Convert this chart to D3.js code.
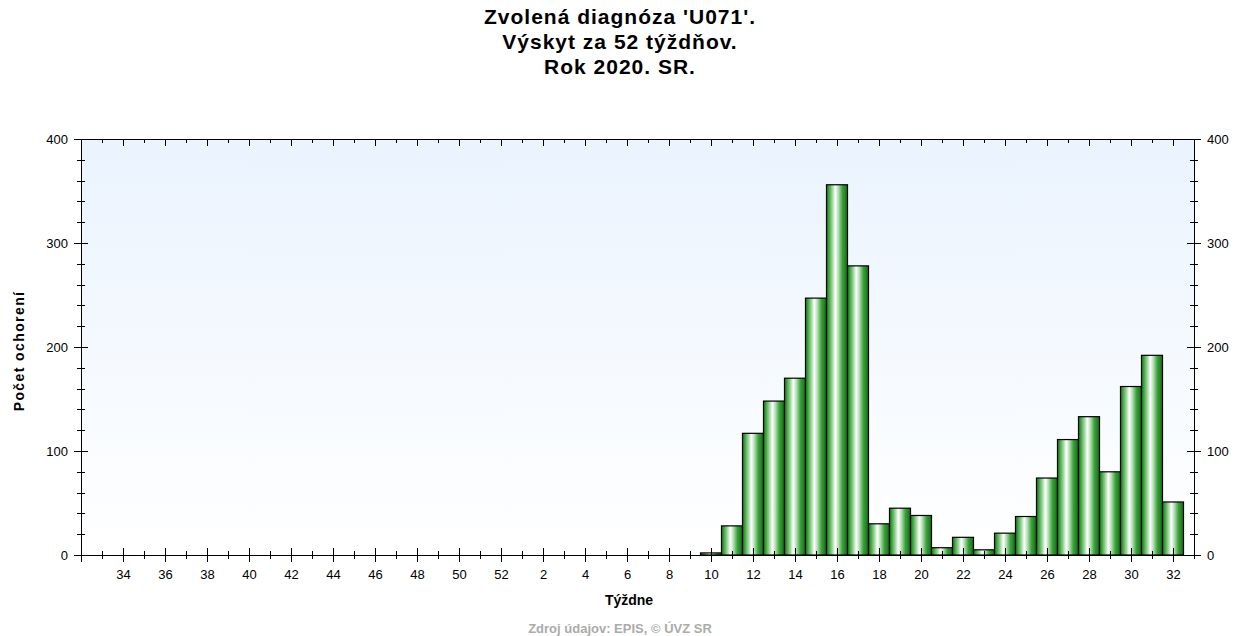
<!DOCTYPE html>
<html>
<head>
<meta charset="utf-8">
<script src="https://cdn.jsdelivr.net/npm/d3@7"></script>
<style>
  body { margin: 0; background: #fff; }
  svg { display: block; font-family: "Liberation Sans", Arial, sans-serif; }
</style>
</head>
<body>
<div id="chart"></div>
<script>
// Weeks in display order (33..52 of previous year, then 1..32)
var weeks = [33, 34, 35, 36, 37, 38, 39, 40, 41, 42, 43, 44, 45, 46, 47, 48, 49, 50, 51, 52,
             1, 2, 3, 4, 5, 6, 7, 8, 9, 10, 11, 12, 13, 14, 15, 16, 17, 18, 19, 20,
             21, 22, 23, 24, 25, 26, 27, 28, 29, 30, 31, 32];

// Cases per week
var cases = [0, 0, 0, 0, 0, 0, 0, 0, 0, 0, 0, 0, 0, 0, 0, 0, 0, 0, 0, 0,
             0, 0, 0, 0, 0, 0, 0, 0, 0, 2, 28, 117, 148, 170, 247, 356, 278, 30, 45, 38,
             7, 17, 5, 21, 37, 74, 111, 133, 80, 162, 192, 51];

var titleLines = ["Zvolená diagnóza 'U071'.", "Výskyt za 52 týždňov.", "Rok 2020. SR."];
var yTicks = [0, 100, 200, 300, 400];

var W = 1239, H = 636;
var plotLeft = 81, plotRight = 1194, plotTop = 139, plotBottom = 555;

var svg = d3.select("#chart").append("svg")
    .attr("width", W)
    .attr("height", H);

var defs = svg.append("defs");

// plot background: pale blue to white
var bg = defs.append("linearGradient").attr("id", "bg")
    .attr("x1", 0).attr("y1", 0).attr("x2", 0).attr("y2", 1);
bg.append("stop").attr("offset", "0%").attr("stop-color", "#eaf3fe");
bg.append("stop").attr("offset", "100%").attr("stop-color", "#ffffff");

// cylinder-like green bar fill
var barFill = defs.append("linearGradient").attr("id", "barFill")
    .attr("x1", 0).attr("y1", 0).attr("x2", 1).attr("y2", 0);
[["0%", "#157515"], ["10%", "#36a036"], ["27%", "#98d398"], ["42%", "#ffffff"],
 ["56%", "#b5e0b5"], ["76%", "#3aa03a"], ["100%", "#126c12"]].forEach(function (s) {
    barFill.append("stop").attr("offset", s[0]).attr("stop-color", s[1]);
});

// scales: index -1 is the left axis, 52 the right axis
var x = d3.scaleLinear().domain([-1, weeks.length]).range([plotLeft, plotRight]);
var y = d3.scaleLinear().domain([0, 400]).range([plotBottom, plotTop]);

svg.append("rect")
    .attr("x", plotLeft).attr("y", plotTop)
    .attr("width", plotRight - plotLeft).attr("height", plotBottom - plotTop)
    .attr("fill", "url(#bg)");

// title
svg.append("g").selectAll("text")
    .data(titleLines)
    .enter().append("text")
    .attr("x", 620)
    .attr("y", function (d, i) { return 24 + i * 25; })
    .attr("text-anchor", "middle")
    .attr("font-size", 21)
    .attr("font-weight", "bold")
    .attr("letter-spacing", 1)
    .text(function (d) { return d; });

// bars
svg.append("g").selectAll("rect")
    .data(cases.map(function (v, i) { return { i: i, v: v }; }).filter(function (d) { return d.v > 0; }))
    .enter().append("rect")
    .attr("x", function (d) { return x(d.i - 0.5); })
    .attr("y", function (d) { return y(d.v); })
    .attr("width", function (d) { return x(d.i + 0.5) - x(d.i - 0.5); })
    .attr("height", function (d) { return y(0) - y(d.v); })
    .attr("fill", "url(#barFill)")
    .attr("stroke", "#000")
    .attr("stroke-width", 1.2);

// helper to strip axis domain and style ticks
function styleAxis(g) {
    g.select(".domain").remove();
    g.selectAll(".tick line").attr("stroke", "#000").attr("shape-rendering", "crispEdges");
    g.selectAll(".tick text").attr("fill", "#000").attr("font-size", 13)
        .attr("font-family", "'Liberation Sans', Arial, sans-serif");
}

var allIdx = d3.range(-1, weeks.length + 1);
var majorIdx = allIdx.filter(function (i) { return Math.abs(i) % 2 === 1; });
var minorIdx = allIdx.filter(function (i) { return Math.abs(i) % 2 === 0; });
var innerMajor = majorIdx.filter(function (i) { return i >= 0 && i < weeks.length; });
var innerMinor = minorIdx.filter(function (i) { return i >= 0 && i < weeks.length; });
var yMinor = d3.range(0, 401, 20).filter(function (v) { return v % 100 !== 0; });

// bottom axis: ticks crossing the line
svg.append("g").attr("transform", "translate(0," + plotBottom + ")")
    .call(d3.axisBottom(x).tickValues(majorIdx).tickSize(7).tickPadding(8)
        .tickFormat(function (i) { return (i >= 0 && i < weeks.length) ? weeks[i] : ""; }))
    .call(styleAxis);
svg.append("g").attr("transform", "translate(0," + plotBottom + ")")
    .call(d3.axisTop(x).tickValues(majorIdx).tickSize(7).tickFormat(""))
    .call(styleAxis);
svg.append("g").attr("transform", "translate(0," + plotBottom + ")")
    .call(d3.axisBottom(x).tickValues(minorIdx).tickSize(4).tickFormat(""))
    .call(styleAxis);
svg.append("g").attr("transform", "translate(0," + plotBottom + ")")
    .call(d3.axisTop(x).tickValues(minorIdx).tickSize(4).tickFormat(""))
    .call(styleAxis);

// top border ticks pointing down
svg.append("g").attr("transform", "translate(0," + plotTop + ")")
    .call(d3.axisBottom(x).tickValues(innerMajor).tickSize(7).tickFormat(""))
    .call(styleAxis);
svg.append("g").attr("transform", "translate(0," + plotTop + ")")
    .call(d3.axisBottom(x).tickValues(innerMinor).tickSize(4).tickFormat(""))
    .call(styleAxis);

// left and right value axes, ticks crossing
[[plotLeft, d3.axisLeft, d3.axisRight], [plotRight, d3.axisRight, d3.axisLeft]].forEach(function (a) {
    svg.append("g").attr("transform", "translate(" + a[0] + ",0)")
        .call(a[1](y).tickValues(yTicks).tickSize(7).tickPadding(6))
        .call(styleAxis);
    svg.append("g").attr("transform", "translate(" + a[0] + ",0)")
        .call(a[2](y).tickValues(yTicks).tickSize(7).tickFormat(""))
        .call(styleAxis);
    svg.append("g").attr("transform", "translate(" + a[0] + ",0)")
        .call(a[1](y).tickValues(yMinor).tickSize(4).tickFormat(""))
        .call(styleAxis);
    svg.append("g").attr("transform", "translate(" + a[0] + ",0)")
        .call(a[2](y).tickValues(yMinor).tickSize(4).tickFormat(""))
        .call(styleAxis);
});

// frame lines
svg.append("g").attr("stroke", "#000").attr("shape-rendering", "crispEdges")
    .selectAll("line")
    .data([[plotLeft, plotTop, plotRight, plotTop], [plotLeft, plotBottom, plotRight, plotBottom],
           [plotLeft, plotTop, plotLeft, plotBottom], [plotRight, plotTop, plotRight, plotBottom]])
    .enter().append("line")
    .attr("x1", function (d) { return d[0]; })
    .attr("y1", function (d) { return d[1]; })
    .attr("x2", function (d) { return d[2]; })
    .attr("y2", function (d) { return d[3]; });

// axis titles
svg.append("text")
    .attr("transform", "translate(24,351) rotate(-90)")
    .attr("text-anchor", "middle")
    .attr("font-size", 14)
    .attr("font-weight", "bold")
    .attr("letter-spacing", 1.4)
    .text("Počet ochorení");

svg.append("text")
    .attr("x", 629).attr("y", 605)
    .attr("text-anchor", "middle")
    .attr("font-size", 14)
    .attr("font-weight", "bold")
    .text("Týždne");

svg.append("text")
    .attr("x", 620).attr("y", 633)
    .attr("text-anchor", "middle")
    .attr("font-size", 13)
    .attr("font-weight", "bold")
    .attr("fill", "#ababab")
    .text("Zdroj údajov: EPIS, © ÚVZ SR");
</script>
</body>
</html>
